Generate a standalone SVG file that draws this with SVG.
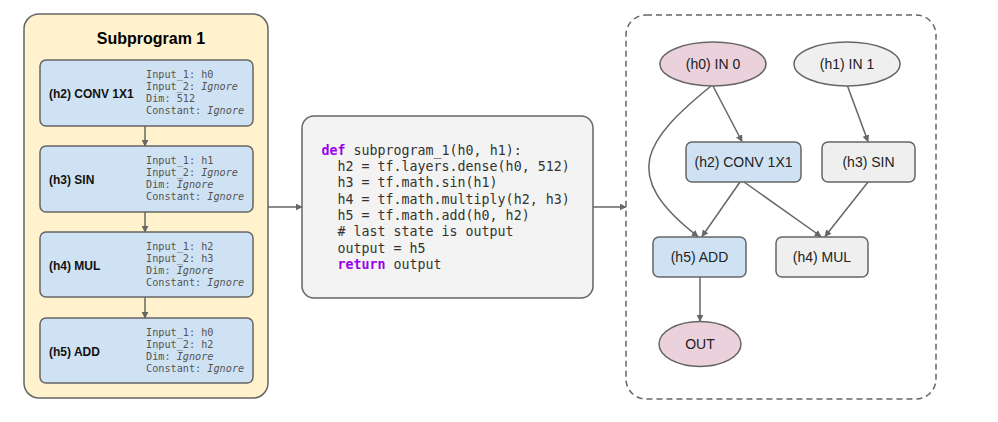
<svg xmlns="http://www.w3.org/2000/svg" width="998" height="422" viewBox="0 0 998 422">
<style>
.bg{fill:#ffffff}
.panel{fill:#fff2cc;stroke:#666;stroke-width:1.5}
.op{fill:#cfe2f3;stroke:#666;stroke-width:1.5}
.gray{fill:#efefef;stroke:#666;stroke-width:1.5}
.pink{fill:#ead1dc;stroke:#666;stroke-width:1.5}
.code{fill:#f3f3f3;stroke:#666;stroke-width:1.5}
.dash{fill:none;stroke:#666;stroke-width:1.5;stroke-dasharray:6 4}
.title{font-family:"Liberation Sans",Arial,sans-serif;font-weight:bold;font-size:16px;fill:#000}
.lbl{font-family:"Liberation Sans",Arial,sans-serif;font-weight:bold;font-size:12px;fill:#111}
.mono{font-family:"DejaVu Sans Mono","Liberation Mono",monospace;font-size:10.2px;fill:#555}
.cd{font-family:"DejaVu Sans Mono","Liberation Mono",monospace;font-size:13.3px;fill:#333;white-space:pre}
.kw{fill:#9900ee;font-weight:bold}
.nt{font-family:"Liberation Sans",Arial,sans-serif;font-size:14px;fill:#222;text-anchor:middle}
.edge{fill:none;stroke:#666;stroke-width:1.5}
</style>
<defs>
<marker id="ah" viewBox="0 0 10 10" refX="9" refY="5" markerWidth="7" markerHeight="7" markerUnits="userSpaceOnUse" orient="auto">
<path d="M0,0 L10,5 L0,10 z" fill="#666"/>
</marker>
</defs>
<rect class="bg" x="0" y="0" width="998" height="422"/>

<g id="subprogram-panel">
<rect class="panel" x="24" y="14" width="244" height="384" rx="15"/>
<text class="title" x="151" y="44" text-anchor="middle">Subprogram 1</text>
</g>

<g id="left-h2">
<rect class="op" x="40" y="60" width="213" height="66" rx="6"/>
<text class="lbl" x="49" y="98">(h2) CONV 1X1</text>
<text class="mono" x="146" y="77.5">Input_1: h0</text>
<text class="mono" x="146" y="89.8">Input_2: <tspan font-style="italic">Ignore</tspan></text>
<text class="mono" x="146" y="102.1">Dim: 512</text>
<text class="mono" x="146" y="114.4">Constant: <tspan font-style="italic">Ignore</tspan></text>
</g>
<g id="left-h3">
<rect class="op" x="40" y="146" width="213" height="66" rx="6"/>
<text class="lbl" x="49" y="184">(h3) SIN</text>
<text class="mono" x="146" y="163.5">Input_1: h1</text>
<text class="mono" x="146" y="175.8">Input_2: <tspan font-style="italic">Ignore</tspan></text>
<text class="mono" x="146" y="188.1">Dim: <tspan font-style="italic">Ignore</tspan></text>
<text class="mono" x="146" y="200.4">Constant: <tspan font-style="italic">Ignore</tspan></text>
</g>
<g id="left-h4">
<rect class="op" x="40" y="232" width="213" height="65" rx="6"/>
<text class="lbl" x="49" y="270">(h4) MUL</text>
<text class="mono" x="146" y="249.5">Input_1: h2</text>
<text class="mono" x="146" y="261.8">Input_2: h3</text>
<text class="mono" x="146" y="274.1">Dim: <tspan font-style="italic">Ignore</tspan></text>
<text class="mono" x="146" y="286.4">Constant: <tspan font-style="italic">Ignore</tspan></text>
</g>
<g id="left-h5">
<rect class="op" x="40" y="318" width="213" height="65" rx="6"/>
<text class="lbl" x="49" y="356">(h5) ADD</text>
<text class="mono" x="146" y="335.5">Input_1: h0</text>
<text class="mono" x="146" y="347.8">Input_2: h2</text>
<text class="mono" x="146" y="360.1">Dim: <tspan font-style="italic">Ignore</tspan></text>
<text class="mono" x="146" y="372.4">Constant: <tspan font-style="italic">Ignore</tspan></text>
</g>

<g id="code">
<rect class="code" x="302" y="116" width="291" height="182" rx="12"/>
<text class="cd" x="321.5" y="154.5"><tspan class="kw">def</tspan> subprogram_1(h0, h1):</text>
<text class="cd" x="321.5" y="170.8">  h2 = tf.layers.dense(h0, 512)</text>
<text class="cd" x="321.5" y="187.2">  h3 = tf.math.sin(h1)</text>
<text class="cd" x="321.5" y="203.5">  h4 = tf.math.multiply(h2, h3)</text>
<text class="cd" x="321.5" y="219.8">  h5 = tf.math.add(h0, h2)</text>
<text class="cd" x="321.5" y="236.2">  # last state is output</text>
<text class="cd" x="321.5" y="252.5">  output = h5</text>
<text class="cd" x="321.5" y="268.8">  <tspan class="kw">return</tspan> output</text>
</g>

<g id="graph-panel">
<rect class="dash" x="626" y="15" width="310" height="384" rx="20"/>
</g>

<g id="n-h0"><ellipse class="pink" cx="713" cy="64" rx="53" ry="22"/><text class="nt" x="713" y="69">(h0) IN 0</text></g>
<g id="n-h1"><ellipse class="gray" cx="847" cy="64" rx="53" ry="22"/><text class="nt" x="847" y="69">(h1) IN 1</text></g>
<g id="n-h2"><rect class="op" x="686" y="142" width="115" height="40" rx="6"/><text class="nt" x="743.5" y="167">(h2) CONV 1X1</text></g>
<g id="n-h3"><rect class="gray" x="822" y="142" width="93" height="40" rx="6"/><text class="nt" x="868.5" y="167">(h3) SIN</text></g>
<g id="n-h5"><rect class="op" x="653" y="237" width="93" height="40" rx="6"/><text class="nt" x="699.5" y="262">(h5) ADD</text></g>
<g id="n-h4"><rect class="gray" x="776" y="237" width="92" height="40" rx="6"/><text class="nt" x="822" y="262">(h4) MUL</text></g>
<g id="n-out"><ellipse class="pink" cx="700" cy="344" rx="41" ry="22.5"/><text class="nt" x="700" y="349">OUT</text></g>

<g id="connectors">
<line class="edge" x1="145" y1="126" x2="145" y2="146" marker-end="url(#ah)"/>
<line class="edge" x1="145" y1="212" x2="145" y2="232" marker-end="url(#ah)"/>
<line class="edge" x1="145" y1="297" x2="145" y2="318" marker-end="url(#ah)"/>
<line class="edge" x1="268" y1="207" x2="302" y2="207" marker-end="url(#ah)"/>
<line class="edge" x1="593" y1="207" x2="626" y2="207" marker-end="url(#ah)"/>
<line class="edge" x1="713" y1="86" x2="742" y2="141.5" marker-end="url(#ah)"/>
<path class="edge" d="M711,86 C645,140 618,175 698,236.5" marker-end="url(#ah)"/>
<line class="edge" x1="847.5" y1="86" x2="868" y2="141.5" marker-end="url(#ah)"/>
<line class="edge" x1="740" y1="182" x2="702" y2="236.5" marker-end="url(#ah)"/>
<line class="edge" x1="744" y1="182" x2="821" y2="236.5" marker-end="url(#ah)"/>
<line class="edge" x1="868" y1="182" x2="825" y2="236.5" marker-end="url(#ah)"/>
<line class="edge" x1="700" y1="277" x2="700" y2="321" marker-end="url(#ah)"/>
</g>
</svg>
